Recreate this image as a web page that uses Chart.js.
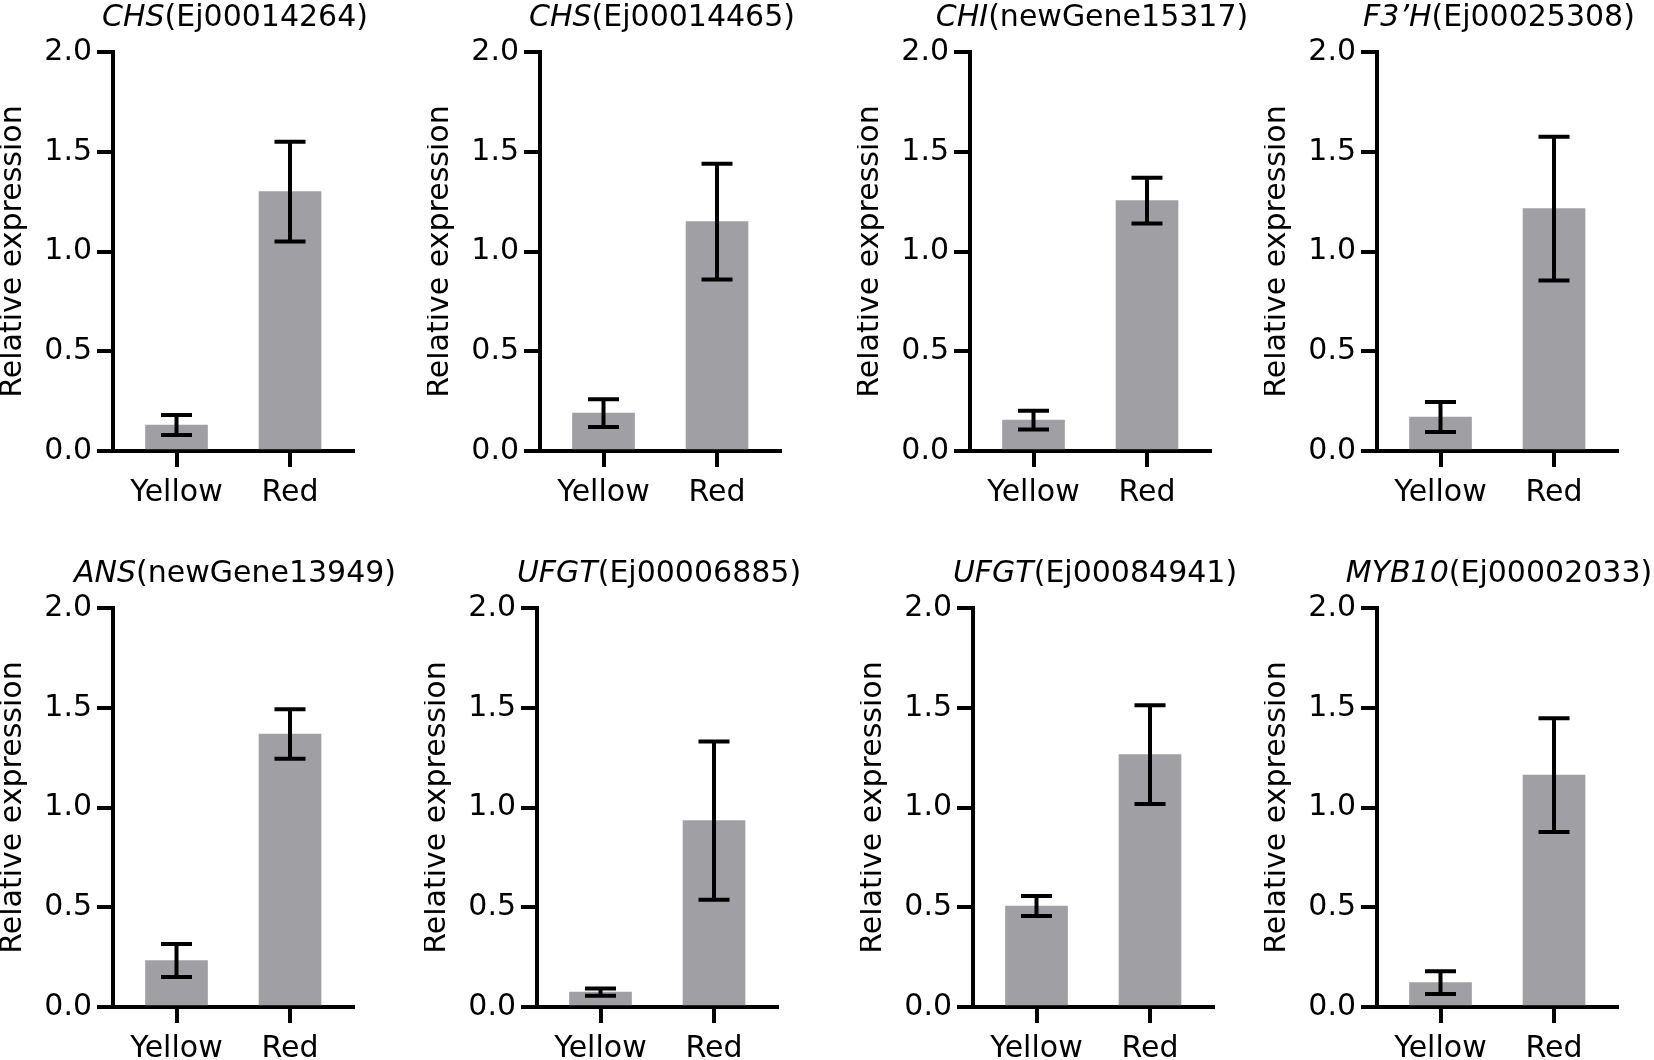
<!DOCTYPE html>
<html>
<head>
<meta charset="utf-8">
<script src="https://cdn.jsdelivr.net/npm/chart.js@4.4.1/dist/chart.umd.min.js"></script>
<style>
  html, body { margin: 0; padding: 0; background: #fff; overflow: hidden; }
  body { width: 1654px; height: 1060px; position: relative; }
  canvas { position: absolute; }
</style>
</head>
<body>
<script>
// gene labels (italic part + id part)
const geneNames = ['CHS', 'CHS', 'CHI', 'F3\u2019H', 'ANS', 'UFGT', 'UFGT', 'MYB10'];
const geneIds = ['(Ej00014264)', '(Ej00014465)', '(newGene15317)', '(Ej00025308)',
                 '(newGene13949)', '(Ej00006885)', '(Ej00084941)', '(Ej00002033)'];
const groups = ['Yellow', 'Red'];

// mean and error (SD)
const yellowMean = [0.13, 0.19, 0.155, 0.17, 0.233, 0.075, 0.506, 0.122];
const yellowErr  = [0.05, 0.07, 0.047, 0.075, 0.083, 0.018, 0.05, 0.057];
const redMean    = [1.30, 1.15, 1.255, 1.215, 1.368, 0.934, 1.265, 1.162];
const redErr     = [0.25, 0.29, 0.115, 0.36, 0.124, 0.397, 0.247, 0.285];

const yTicks = [0, 0.5, 1.0, 1.5, 2.0];

// panel placement (left edge of each y axis, top of each row)
const axisLeft = [[113, 540, 970, 1377], [113, 537, 973, 1377]];
const rowTop = [0, 556];

Chart.defaults.font.family = '"DejaVu Sans", sans-serif';
Chart.defaults.color = '#000';

const FONT = 30;
const BAR_GRAY = '#a0a0a4';

// error bars drawn from the y scale
const errorBars = {
  id: 'errorBars',
  afterDatasetsDraw(chart) {
    const ctx = chart.ctx;
    const y = chart.scales.y;
    const ds = chart.data.datasets[0];
    const meta = chart.getDatasetMeta(0);
    ctx.save();
    ctx.strokeStyle = '#000';
    ctx.lineWidth = 4;
    meta.data.forEach((bar, i) => {
      const m = ds.data[i].y, e = ds.errors[i];
      const top = y.getPixelForValue(m + e);
      const bot = y.getPixelForValue(m - e);
      ctx.beginPath();
      ctx.moveTo(bar.x, top); ctx.lineTo(bar.x, bot);
      ctx.moveTo(bar.x - 15.5, top); ctx.lineTo(bar.x + 15.5, top);
      ctx.moveTo(bar.x - 15.5, bot); ctx.lineTo(bar.x + 15.5, bot);
      ctx.stroke();
    });
    ctx.restore();
  }
};

// title with italic gene name followed by the plain id
const splitTitle = {
  id: 'splitTitle',
  afterDraw(chart, args, opts) {
    const ctx = chart.ctx;
    const area = chart.chartArea;
    ctx.save();
    ctx.fillStyle = '#000';
    ctx.textBaseline = 'alphabetic';
    ctx.font = 'italic ' + FONT + 'px "DejaVu Sans"';
    const w1 = ctx.measureText(opts.name).width;
    ctx.font = FONT + 'px "DejaVu Sans"';
    const w2 = ctx.measureText(opts.id).width;
    let x = (area.left + area.right) / 2 + 2 - (w1 + w2) / 2;
    ctx.font = 'italic ' + FONT + 'px "DejaVu Sans"';
    ctx.fillText(opts.name, x, 26);
    ctx.font = FONT + 'px "DejaVu Sans"';
    ctx.fillText(opts.id, x + w1, 26);
    ctx.restore();
  }
};

const axisLine = { display: true, width: 4, color: '#000' };
const tickMarks = { drawOnChartArea: false, drawTicks: true, tickLength: 16, lineWidth: 4, color: '#000', offset: false };

for (let i = 0; i < geneNames.length; i++) {
  const row = Math.floor(i / 4), col = i % 4;
  const canvas = document.createElement('canvas');
  canvas.width = 430;
  canvas.height = 530;
  canvas.style.width = '430px';
  canvas.style.height = '530px';
  canvas.style.left = (axisLeft[row][col] - 113) + 'px';
  canvas.style.top = rowTop[row] + 'px';
  document.body.appendChild(canvas);

  new Chart(canvas.getContext('2d'), {
    type: 'bar',
    data: {
      datasets: [{
        data: [{ x: 0, y: yellowMean[i] }, { x: 1, y: redMean[i] }],
        errors: [yellowErr[i], redErr[i]],
        backgroundColor: BAR_GRAY,
        borderWidth: 0,
        barThickness: 62
      }]
    },
    options: {
      responsive: false,
      animation: false,
      events: [],
      layout: { padding: { top: 52, bottom: 19, left: 0, right: 77 } },
      scales: {
        x: {
          type: 'linear',
          min: -0.5595,
          max: 1.555,
          offset: false,
          z: 1,
          afterBuildTicks: axis => { axis.ticks = groups.map((g, k) => ({ value: k })); },
          afterFit: axis => { axis.height = 60; },
          ticks: {
            callback: v => groups[v],
            font: { size: FONT },
            color: '#000',
            padding: 8,
            autoSkip: false,
            maxRotation: 0
          },
          grid: tickMarks,
          border: axisLine
        },
        y: {
          min: 0,
          max: 2,
          z: 1,
          afterBuildTicks: axis => { axis.ticks = yTicks.map(v => ({ value: v })); },
          afterFit: axis => { axis.width = 113; },
          ticks: {
            callback: v => v.toFixed(1),
            font: { size: FONT },
            color: '#000',
            padding: 5
          },
          grid: tickMarks,
          border: axisLine,
          title: {
            display: true,
            text: 'Relative expression',
            font: { size: FONT, lineHeight: 0.9 },
            color: '#000',
            padding: 0
          }
        }
      },
      plugins: {
        legend: { display: false },
        tooltip: { enabled: false },
        splitTitle: { name: geneNames[i], id: geneIds[i] }
      }
    },
    plugins: [errorBars, splitTitle]
  });
}
</script>
</body>
</html>
